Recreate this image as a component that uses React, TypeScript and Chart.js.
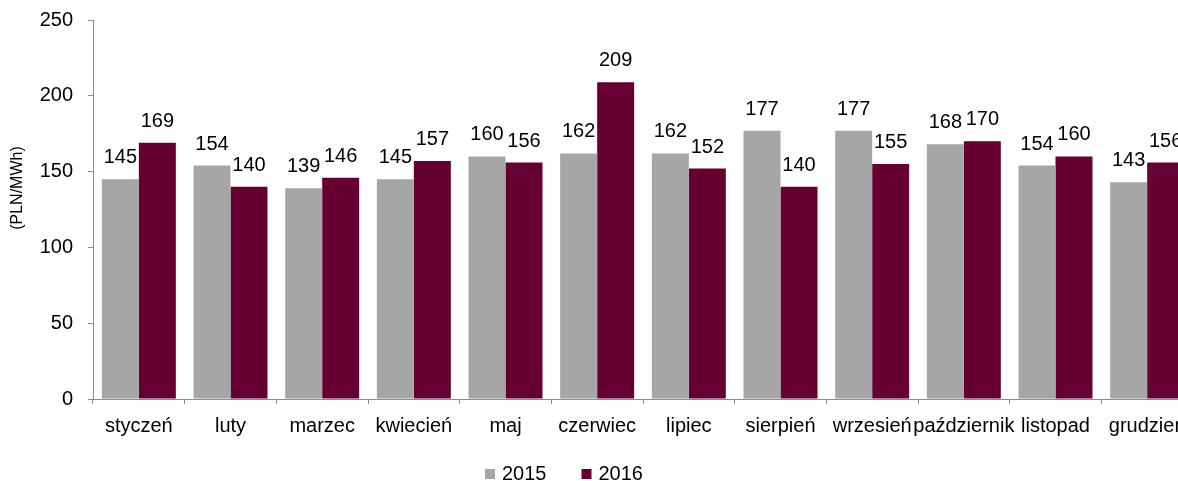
import React, { useEffect, useRef } from "react";
import { Chart, registerables } from "chart.js";

Chart.register(...registerables);

const categories = [
  "styczeń", "luty", "marzec", "kwiecień", "maj", "czerwiec",
  "lipiec", "sierpień", "wrzesień", "październik", "listopad", "grudzień",
];
const series2015 = [145, 154, 139, 145, 160, 162, 162, 177, 177, 168, 154, 143];
const series2016 = [169, 140, 146, 157, 156, 209, 152, 140, 155, 170, 160, 156];
const seriesNames = ["2015", "2016"];
const yTicks = [0, 50, 100, 150, 200, 250];
const yTitle = "(PLN/MWh)";

const FONT = "'Liberation Sans', Arial, sans-serif";
const AXIS = "#8c8c8c";

const labelPlugin = {
  id: "valueLabels",
  afterDatasetsDraw(chart: any) {
    const ctx = chart.ctx;
    ctx.save();
    ctx.font = `20px ${FONT}`;
    ctx.fillStyle = "#000";
    ctx.textAlign = "center";
    ctx.textBaseline = "alphabetic";
    chart.data.datasets.forEach((ds: any, i: number) => {
      const meta = chart.getDatasetMeta(i);
      meta.data.forEach((bar: any, j: number) => {
        ctx.fillText(String(ds.data[j]), bar.x, bar.y - 16);
      });
    });
    ctx.restore();
  },
};

const titlePlugin = {
  id: "yTitle",
  afterDraw(chart: any) {
    const ctx = chart.ctx;
    ctx.save();
    ctx.font = `16px ${FONT}`;
    ctx.fillStyle = "#000";
    ctx.textAlign = "center";
    ctx.textBaseline = "middle";
    ctx.translate(18, 188);
    ctx.rotate(-Math.PI / 2);
    ctx.fillText(yTitle, 0, 0);
    ctx.restore();
  },
};

const legendPlugin = {
  id: "customLegend",
  afterDraw(chart: any) {
    const ctx = chart.ctx;
    ctx.save();
    ctx.font = `20px ${FONT}`;
    ctx.textBaseline = "middle";
    ctx.textAlign = "left";
    let x = 485;
    const y = 474;
    chart.data.datasets.forEach((ds: any) => {
      ctx.fillStyle = ds.backgroundColor;
      ctx.fillRect(x, y - 5, 10, 10);
      x += 17;
      ctx.fillStyle = "#000";
      ctx.fillText(ds.label, x, y);
      x += ctx.measureText(ds.label).width + 35;
    });
    ctx.restore();
  },
};

export default function App() {
  const ref = useRef<HTMLCanvasElement>(null);

  useEffect(() => {
    document.body.style.margin = "0";
    const chart = new Chart(ref.current as HTMLCanvasElement, {
      type: "bar",
      data: {
        labels: categories,
        datasets: [
          {
            label: seriesNames[0],
            data: series2015,
            backgroundColor: "#a6a6a6",
            categoryPercentage: 0.807,
            barPercentage: 1,
          },
          {
            label: seriesNames[1],
            data: series2016,
            backgroundColor: "#660033",
            categoryPercentage: 0.807,
            barPercentage: 1,
          },
        ],
      },
      options: {
        animation: false,
        responsive: false,
        layout: { padding: { top: 20, left: 0, right: 17, bottom: 0 } },
        plugins: { legend: { display: false }, title: { display: false }, tooltip: { enabled: false } },
        scales: {
          x: {
            afterFit(scale: any) {
              scale.height = 82;
              scale.paddingTop = 0;
              scale.paddingBottom = 0;
            },
            grid: {
              offset: true,
              drawOnChartArea: false,
              drawTicks: true,
              tickLength: 5,
              color: AXIS,
            },
            border: { display: true, color: AXIS, width: 1 },
            ticks: {
              autoSkip: false,
              maxRotation: 0,
              minRotation: 0,
              color: "#000",
              padding: 10,
              font: { family: FONT, size: 20 },
            },
          },
          y: {
            min: 0,
            max: 250,
            afterFit(scale: any) {
              scale.width = 93;
              scale.paddingTop = 0;
              scale.paddingBottom = 0;
            },
            afterBuildTicks(scale: any) {
              scale.ticks = yTicks.map((v) => ({ value: v }));
            },
            grid: {
              drawOnChartArea: false,
              drawTicks: true,
              tickLength: 5,
              color: AXIS,
            },
            border: { display: true, color: AXIS, width: 1 },
            ticks: {
              color: "#000",
              padding: 15,
              font: { family: FONT, size: 20 },
            },
          },
        },
      },
      plugins: [labelPlugin, titlePlugin, legendPlugin],
    });
    return () => chart.destroy();
  }, []);

  return (
    <div style={{ width: 1178, height: 481, overflow: "hidden", position: "relative" }}>
      <canvas ref={ref} width={1210} height={481} style={{ position: "absolute", left: 0, top: 0 }} />
    </div>
  );
}
